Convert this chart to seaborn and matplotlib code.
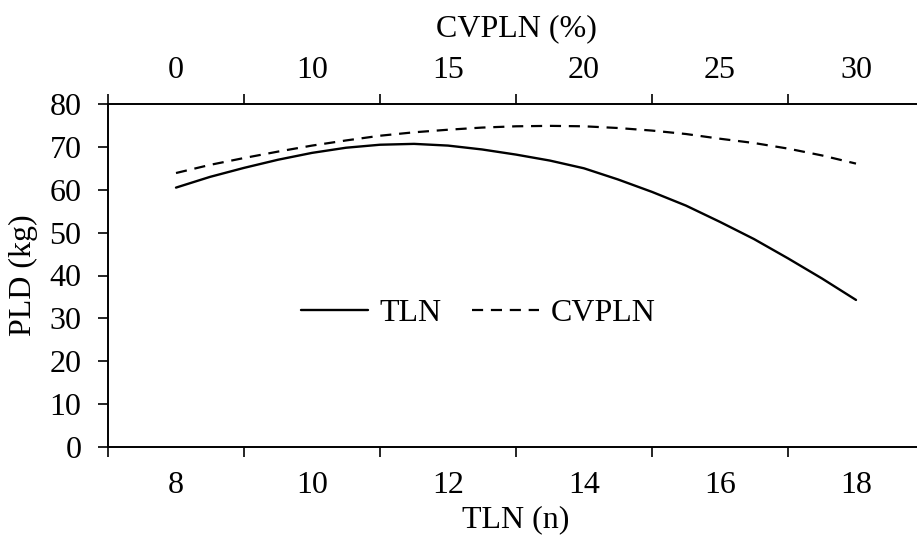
import numpy as np
import pandas as pd
import seaborn as sns
import matplotlib.pyplot as plt

# values
tln = [8, 8.5, 9, 9.5, 10, 10.5, 11, 11.5, 12, 12.5, 13, 13.5, 14, 14.5, 15, 15.5, 16, 16.5, 17, 17.5, 18]
pld_tln = [60.5, 63.0, 65.1, 67.0, 68.6, 69.8, 70.5, 70.7, 70.3, 69.4, 68.2, 66.8, 65.0, 62.4, 59.5, 56.3, 52.5, 48.5, 44.0, 39.3, 34.3]
pld_cvpln = [63.9, 65.8, 67.4, 68.9, 70.3, 71.5, 72.6, 73.4, 74.0, 74.5, 74.8, 74.9, 74.8, 74.4, 73.8, 73.0, 71.9, 70.9, 69.6, 68.0, 66.1]

bottom_labels = ['8', '10', '12', '14', '16', '18']
top_labels = ['0', '10', '15', '20', '25', '30']
category_pos = [8, 10, 12, 14, 16, 18]

df = pd.DataFrame({'TLN (n)': tln, 'TLN': pld_tln, 'CVPLN': pld_cvpln})

sns.set_theme(style='ticks', rc={
    'text.color': 'black',
    'axes.labelcolor': 'black',
    'xtick.color': 'black',
    'ytick.color': 'black',
    'axes.edgecolor': 'black',
})
plt.rcParams['font.family'] = ['Liberation Serif', 'DejaVu Serif']
fs = 23

fig = plt.figure(figsize=(9.17, 5.45), dpi=100)
# axes: left 108px, right ~924px (slightly past image edge), top 104px, bottom 447px
ax = fig.add_axes([108 / 917, 1 - 447 / 545, (924 - 108) / 917, (447 - 104) / 545])

sns.lineplot(data=df, x='TLN (n)', y='TLN', ax=ax, color='black', linewidth=1.7, label='TLN')
sns.lineplot(data=df, x='TLN (n)', y='CVPLN', ax=ax, color='black', linewidth=1.6,
             linestyle=(0, (5, 3.5)), label='CVPLN')

ax.set_xlim(7, 19)
ax.set_ylim(0, 80)
ax.set_yticks(np.arange(0, 81, 10))
ax.set_xticks(np.arange(7, 20, 2))
ax.set_xticklabels([])
ax.set_xticks(category_pos, minor=True)
ax.set_xticklabels(bottom_labels, minor=True)
ax.tick_params(axis='x', which='major', direction='out', length=7, width=1.2)
ax.tick_params(axis='x', which='minor', length=0, pad=17, labelsize=fs)
ax.tick_params(axis='y', direction='out', length=7, width=1.2, labelsize=fs, pad=12)
ax.set_xlabel('TLN (n)', fontsize=fs, labelpad=4)
ax.set_ylabel('PLD (kg)', fontsize=fs, labelpad=8)

ax2 = ax.twiny()
ax2.set_xlim(7, 19)
ax2.set_xticks(np.arange(7, 20, 2))
ax2.set_xticklabels([])
ax2.set_xticks(category_pos, minor=True)
ax2.set_xticklabels(top_labels, minor=True)
ax2.tick_params(axis='x', which='major', direction='out', length=7, width=1.2)
ax2.tick_params(axis='x', which='minor', length=0, pad=14, labelsize=fs)
ax2.set_xlabel('CVPLN (%)', fontsize=fs, labelpad=14)

for a in (ax, ax2):
    for side in ('left', 'bottom', 'top'):
        a.spines[side].set_linewidth(1.2)
    a.spines['right'].set_visible(False)

ax.legend(loc='center', bbox_to_anchor=(0.454, 0.39), ncol=2, frameon=False,
          fontsize=fs, handlelength=2.1, columnspacing=0.95, handletextpad=0.37)

fig.savefig('out.png', dpi=100)
